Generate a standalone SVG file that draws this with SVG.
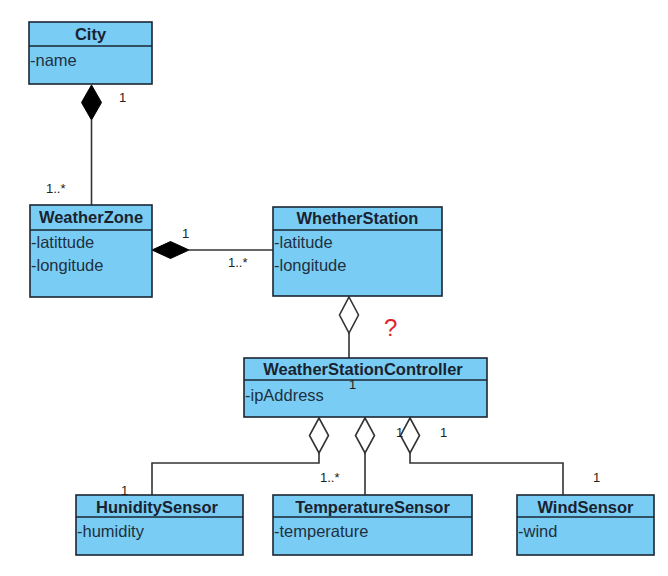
<svg xmlns="http://www.w3.org/2000/svg" width="668" height="576" viewBox="0 0 668 576">
<style>
.box{fill:#79CDF4;stroke:#1b2633;stroke-width:1.6}
.sep{stroke:#1b2633;stroke-width:1.4}
.t{font-family:"Liberation Sans",Arial,sans-serif;font-weight:bold;font-size:16.5px;fill:#1a2230;text-anchor:middle}
.a{font-family:"Liberation Sans",Arial,sans-serif;font-size:16.5px;fill:#1f3040}
.l{font-family:"Liberation Sans",Arial,sans-serif;font-size:13px;fill:#222}
.ln{fill:none;stroke:#333;stroke-width:1.6}
.comp{fill:#000;stroke:#000;stroke-width:1}
.agg{fill:#fff;stroke:#333;stroke-width:1.6}
</style>
<rect width="668" height="576" fill="#fff"/>
<g id="connectors">
  <line class="ln" x1="91.5" y1="120" x2="91.5" y2="205"/>
  <path class="comp" d="M91.5,85 L101.5,102.5 L91.5,120 L81.5,102.5 Z"/>
  <line class="ln" x1="189" y1="250" x2="273" y2="250"/>
  <path class="comp" d="M152,250 L170.5,241.5 L189,250 L170.5,258.5 Z"/>
  <line class="ln" x1="349" y1="333" x2="349" y2="358"/>
  <path class="agg" d="M349,297 L358.5,315 L349,333 L339.5,315 Z"/>
  <polyline class="ln" points="319,453 319,463 152,463 152,495"/>
  <path class="agg" d="M319,418 L328.5,435.5 L319,453 L309.5,435.5 Z"/>
  <line class="ln" x1="365" y1="453" x2="365" y2="495"/>
  <path class="agg" d="M365,418 L374.5,435.5 L365,453 L355.5,435.5 Z"/>
  <polyline class="ln" points="410,453 410,463 563,463 563,495"/>
  <path class="agg" d="M410,418 L419.5,435.5 L410,453 L400.5,435.5 Z"/>
  <text class="l" x="119" y="102">1</text>
  <text class="l" x="46" y="193">1..*</text>
  <text class="l" x="182" y="238">1</text>
  <text class="l" x="228" y="267">1..*</text>
  <text class="l" x="320" y="482">1..*</text>
  <text class="l" x="440" y="437">1</text>
  <text class="l" x="593" y="482">1</text>
  <text x="384" y="336" font-family="'Liberation Sans',Arial,sans-serif" font-size="24" fill="#e0242c">?</text>
</g>
<g id="City">
  <rect class="box" x="29" y="22" width="123" height="62"/>
  <line class="sep" x1="29" y1="46" x2="152" y2="46"/>
  <text class="t" x="90.5" y="40">City</text>
  <text class="a" x="30" y="66">-name</text>
</g>
<g id="WeatherZone">
  <rect class="box" x="30" y="205" width="122" height="92"/>
  <line class="sep" x1="30" y1="230" x2="152" y2="230"/>
  <text class="t" x="91" y="223">WeatherZone</text>
  <text class="a" x="31" y="248">-latittude</text>
  <text class="a" x="31" y="271">-longitude</text>
</g>
<g id="WhetherStation">
  <rect class="box" x="273" y="207" width="169" height="89"/>
  <line class="sep" x1="273" y1="230" x2="442" y2="230"/>
  <text class="t" x="357.5" y="224">WhetherStation</text>
  <text class="a" x="274" y="248">-latitude</text>
  <text class="a" x="274" y="271">-longitude</text>
</g>
<g id="WeatherStationController">
  <rect class="box" x="244" y="358" width="243" height="59"/>
  <line class="sep" x1="244" y1="380" x2="487" y2="380"/>
  <text class="t" x="363" y="375">WeatherStationController</text>
  <text class="a" x="245" y="401">-ipAddress</text>
  <text class="l" x="349" y="389">1</text>
</g>
<g id="HuniditySensor">
  <rect class="box" x="76" y="495" width="167" height="60"/>
  <line class="sep" x1="76" y1="517" x2="243" y2="517"/>
  <text class="t" x="157" y="513">HuniditySensor</text>
  <text class="a" x="77" y="537">-humidity</text>
  <text class="l" x="121" y="495">1</text>
</g>
<g id="TemperatureSensor">
  <rect class="box" x="273" y="495" width="199" height="60"/>
  <line class="sep" x1="273" y1="517" x2="472" y2="517"/>
  <text class="t" x="372.5" y="513">TemperatureSensor</text>
  <text class="a" x="274" y="537">-temperature</text>
</g>
<g id="WindSensor">
  <rect class="box" x="517" y="495" width="137" height="60"/>
  <line class="sep" x1="517" y1="517" x2="654" y2="517"/>
  <text class="t" x="585.5" y="513">WindSensor</text>
  <text class="a" x="518" y="537">-wind</text>
</g>
<text class="l" x="396" y="437">1</text>
</svg>
